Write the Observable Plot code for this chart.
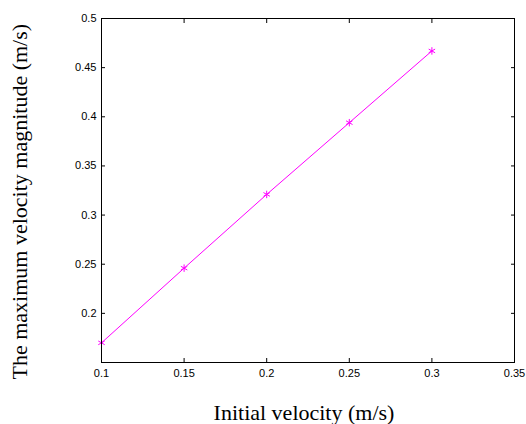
<!DOCTYPE html>
<html>
<head>
<meta charset="utf-8">
<script src="https://cdn.jsdelivr.net/npm/d3@7"></script>
<script src="https://cdn.jsdelivr.net/npm/@observablehq/plot@0.6"></script>
<style>
  html, body { margin: 0; padding: 0; background: #fff; }
</style>
</head>
<body>
<div id="chart"></div>
<script>
const initialVelocity = [0.1, 0.15, 0.2, 0.25, 0.3];
const maxVelocity = [0.170, 0.246, 0.321, 0.394, 0.467];
const xTicks = [0.1, 0.15, 0.2, 0.25, 0.3, 0.35];
const yTicks = [0.2, 0.25, 0.3, 0.35, 0.4, 0.45, 0.5];
const xTitle = "Initial velocity (m/s)";
const yTitle = "The maximum velocity magnitude (m/s)";

const data = initialVelocity.map((x, i) => ({x, y: maxVelocity[i]}));
const fmt = d => String(d);
const serif = "'Liberation Serif', 'Times New Roman', serif";

const chart = Plot.plot({
  width: 526,
  height: 424,
  marginLeft: 101,
  marginRight: 12,
  marginTop: 18,
  marginBottom: 62,
  style: {fontFamily: "'Liberation Sans', Arial, sans-serif", fontSize: "11px", background: "#fff", color: "#000"},
  x: {domain: [0.1, 0.35]},
  y: {domain: [0.15, 0.5]},
  marks: [
    Plot.axisX(xTicks, {tickSize: 0, tickPadding: 7, tickFormat: fmt, label: null}),
    Plot.axisX(xTicks, {anchor: "bottom", tickSize: -4, text: null, label: null}),
    Plot.axisX(xTicks, {anchor: "top", tickSize: -4, text: null, label: null}),
    Plot.axisY(yTicks, {tickSize: 0, tickPadding: 5, tickFormat: fmt, label: null}),
    Plot.axisY(yTicks, {anchor: "left", tickSize: -4, text: null, label: null}),
    Plot.axisY(yTicks, {anchor: "right", tickSize: -4, text: null, label: null}),
    Plot.line(data, {x: "x", y: "y", stroke: "#ff00ff", strokeWidth: 1}),
    Plot.dot(data, {x: "x", y: "y", symbol: "asterisk", r: 3.5, stroke: "#ff00ff", strokeWidth: 1}),
    Plot.frame({stroke: "#000", strokeWidth: 1}),
    Plot.text([xTitle], {text: d => d, frameAnchor: "bottom", dx: -4, dy: 57, lineAnchor: "bottom", fontFamily: serif, fontSize: 22, fill: "#000"}),
    Plot.text([yTitle], {text: d => d, frameAnchor: "bottom-left", dx: -75, dy: 17, rotate: -90, textAnchor: "start", lineAnchor: "bottom", fontFamily: serif, fontSize: 22, fill: "#000"})
  ]
});
document.getElementById("chart").appendChild(chart);
</script>
</body>
</html>
